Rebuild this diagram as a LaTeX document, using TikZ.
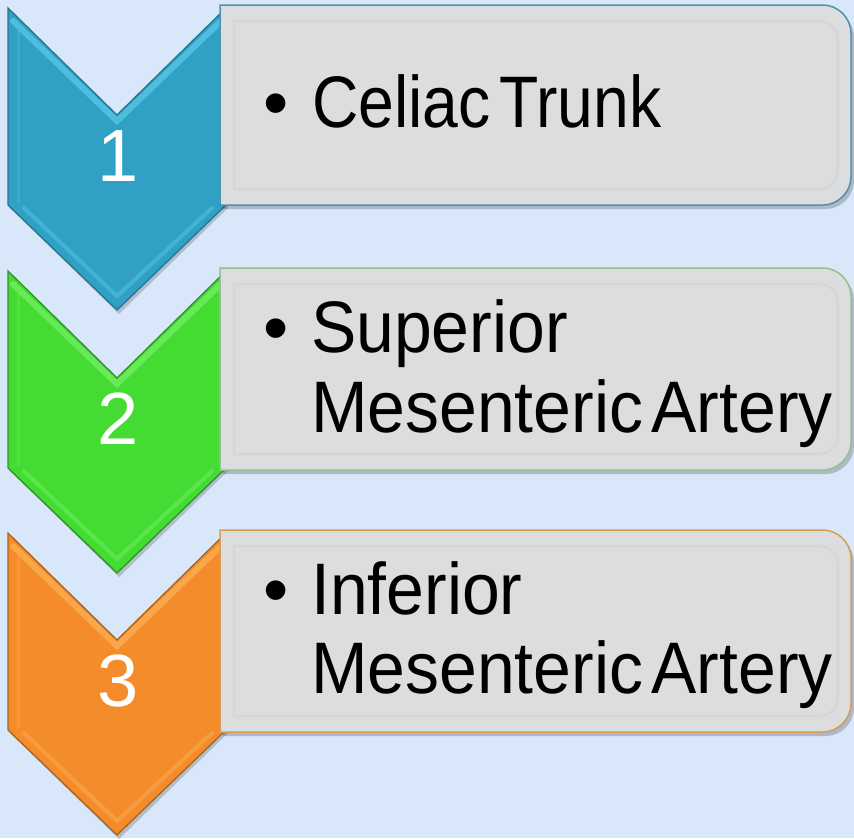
\documentclass[tikz,border=0pt]{standalone}
\usepackage{fontspec}
\setmainfont{Liberation Sans}
\newfontfamily\boxfont[FakeStretch=0.93,WordSpace=0.45]{Liberation Sans}
\newfontfamily\boxfontn[FakeStretch=0.88,WordSpace=0.5]{Liberation Sans}
\definecolor{bg}{HTML}{D9E7FA}
\definecolor{boxfill}{HTML}{DCDDDF}
\definecolor{boxin}{HTML}{CDCED0}
\definecolor{bluef}{HTML}{30A0C5}
\definecolor{blued}{HTML}{237890}
\definecolor{bluel}{HTML}{66D8F2}
\definecolor{blueb}{HTML}{4F93A8}
\definecolor{greenf}{HTML}{44DC33}
\definecolor{greend}{HTML}{2E9328}
\definecolor{greenl}{HTML}{86F777}
\definecolor{greenb}{HTML}{97BE92}
\definecolor{orangef}{HTML}{F48C2B}
\definecolor{oranged}{HTML}{A8651F}
\definecolor{orangel}{HTML}{FFBE66}
\definecolor{orangeb}{HTML}{D79B55}
\tikzset{
  txt/.style={inner sep=0pt, anchor=base west, font=\boxfont\fontsize{73}{80}\selectfont, text=black},
  txtn/.style={txt, font=\boxfontn\fontsize{73}{80}\selectfont},
  bul/.style={inner sep=0pt, anchor=base, font=\fontsize{72}{80}\selectfont, text=black},
  num/.style={inner sep=0pt, anchor=base, font=\fontsize{74}{80}\selectfont, text=white},
}
\newcommand\mychev[4]{%
  \fill[black, opacity=0.18] (10,{#1+3}) -- (119,{#1+110}) -- (228,{#1+3}) -- (228,{#1+200}) -- (119,{#1+306}) -- (10,{#1+200}) -- cycle;
  \filldraw[fill=#2, draw=#3, line width=1.3] (8,#1) -- (117,{#1+107}) -- (226,#1) -- (226,{#1+197}) -- (117,{#1+302}) -- (8,{#1+197}) -- cycle;
  \draw[#4, line width=6, opacity=0.55, line cap=round] (13,{#1+13}) -- (117,{#1+113}) -- (221,{#1+13});
  \draw[#4, line width=4, opacity=0.35, line cap=round] (24,{#1+200}) -- (117,{#1+288}) -- (212,{#1+200});
  \draw[#4, line width=3, opacity=0.2] (18,{#1+22}) -- (18,{#1+195});
}
\newcommand\mybox[3]{% top, bottom, border
  \fill[black, opacity=0.2] (223,{#1+4}) -- (826,{#1+4}) .. controls (841,{#1+4}) and (854,{#1+17}) .. (854,{#1+32}) -- (854,{#2-24}) .. controls (854,{#2-9}) and (841,{#2+4}) .. (826,{#2+4}) -- (223,{#2+4}) -- cycle;
  \filldraw[fill=boxfill, draw=#3, line width=1.5] (220,#1) -- (823,#1) .. controls (838,#1) and (851,{#1+13}) .. (851,{#1+28}) -- (851,{#2-28}) .. controls (851,{#2-13}) and (838,#2) .. (823,#2) -- (220,#2) -- cycle;
  \draw[boxin, line width=2.5, opacity=0.45] (234,{#1+16}) -- (818,{#1+16}) .. controls (830,{#1+16}) and (838,{#1+24}) .. (838,{#1+36}) -- (838,{#2-36}) .. controls (838,{#2-24}) and (830,{#2-16}) .. (818,{#2-16}) -- (234,{#2-16}) -- cycle;
}
\begin{document}
\begin{tikzpicture}[x=1pt,y=-1pt]
  \fill[bg] (0,0) rectangle (854,838);
  \useasboundingbox (0,0) rectangle (854,838);
  % chevrons and boxes
  \mychev{8}{bluef}{blued}{bluel}
  \mybox{5}{205}{blueb}
  \mychev{271}{greenf}{greend}{greenl}
  \mybox{268}{470}{greenb}
  \mychev{533}{orangef}{oranged}{orangel}
  \mybox{530}{732}{orangeb}
  % numbers
  \node[num] (n1) at (118,181) {1};
  \node[num] (n2) at (118,444) {2};
  \node[num] (n3) at (118,706) {3};
  % bullets
  \node[bul] (b1) at (276,127) {•};
  \node[bul] (b2) at (276,352) {•};
  \node[bul] (b3) at (276,614) {•};
  % texts
  \node[txtn] (t1) at (312,127) {Celiac Trunk};
  \node[txt] (t2a) at (311,352) {Superior};
  \node[txt] (t2b) at (311,432) {Mesenteric Artery};
  \node[txt] (t3a) at (311,614) {Inferior};
  \node[txt] (t3b) at (311,693) {Mesenteric Artery};
\end{tikzpicture}
\end{document}
